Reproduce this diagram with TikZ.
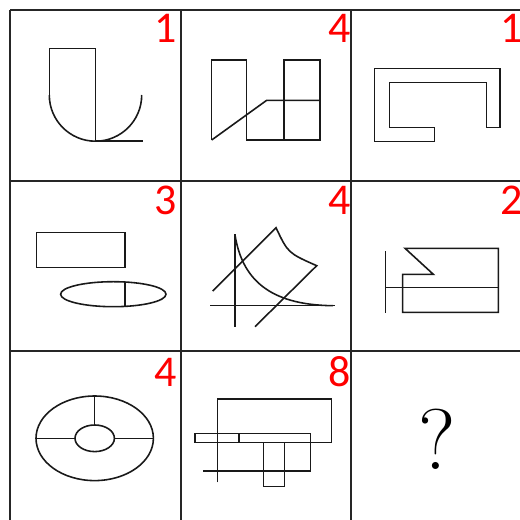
\documentclass[tikz,border=0pt]{standalone}
\usepackage{fontspec}
\newfontfamily\digitfont{Carlito}
\usetikzlibrary{calc}

\begin{document}
\begin{tikzpicture}[
  x=0.02cm, y=-0.02cm,
  gridline/.style={draw=black!85, line width=1.2pt},
  figline/.style={draw=black!90, line width=0.9pt},
  count/.style={text=red, font=\digitfont\fontsize{25}{25}\selectfont,
    anchor=base east, inner sep=0pt},
]
\useasboundingbox (0,0) rectangle (520,520);

%% Grid
\foreach \g in {10,181,351} {
  \draw[gridline] (\g,10) -- (\g,522);
  \draw[gridline] (10,\g) -- (522,\g);
}

%% Row 1
\draw[figline] (49.3,95) -- (49.3,48.3) -- (95.7,48.3) -- (95.7,141) -- (142.7,141);
\draw[figline] (49.3,95) arc[start angle=180, end angle=0, radius=46.2];

\draw[figline] (211.7,140) -- (211.7,60) -- (246.7,60) -- (246.7,140)
  -- (320,140) -- (320,60) -- (284,60) -- (284,140);
\draw[figline] (211.7,140) -- (266.7,100.3) -- (320,100.3);

\draw[figline] (374.3,68.3) -- (500,68.3) -- (500,127.3) -- (486.7,127.3)
  -- (486.7,82.3) -- (389.3,82.3) -- (389.3,127.3) -- (434.3,127.3)
  -- (434.3,141.3) -- (374.3,141.3) -- cycle;

%% Row 2
\draw[figline] (36.7,232.7) rectangle (125,267.7);
\draw[figline] (113.3,294.2) ellipse [x radius=52.7, y radius=12.5];
\draw[figline] (125,282) -- (125,306.4);

\draw[figline] (235,234.3) -- (235,326.7);
\draw[figline] (210,305.7) -- (335,305.7);
\draw[figline] (212.7,291) -- (276,227.7) .. controls (288,253) .. (316.7,265.7)
  -- (255,326.7);
\draw[figline] (235,235) .. controls (242,278) and (268,305) .. (333,305.7);

\draw[figline] (385.7,251) -- (385.7,312.7);
\draw[figline] (385.7,287.3) -- (498.3,287.3);
\draw[figline] (405,248.3) -- (498.3,248.3) -- (498.3,312.3) -- (402.7,312.3)
  -- (402.7,274.3) -- (433.3,274.3) -- cycle;

%% Row 3
\draw[figline] (94.7,438.3) ellipse [x radius=58.7, y radius=42.3];
\draw[figline] (94.7,438.3) ellipse [x radius=19.7, y radius=13.3];
\draw[figline] (94.7,396) -- (94.7,425);
\draw[figline] (36,438.3) -- (75,438.3) (114.3,438.3) -- (153.3,438.3);

\draw[figline] (217.3,482.3) -- (217.3,399) -- (331.7,399) -- (331.7,442.3) -- (310.7,442.3);
\draw[figline] (195,433.3) rectangle (310.7,442.3);
\draw[figline] (239,433.3) -- (239,442.3);
\draw[figline] (310.7,442.3) -- (310.7,471) -- (203.3,471);
\draw[figline] (263.3,442.3) rectangle (284.3,486.7);

\node[font=\fontsize{49}{49}\selectfont, anchor=base, inner sep=0pt]
  (quest) at (436.7,469.5) {?};

%% Counts
\node[count] (c11) at (177,43) {1};
\node[count] (c12) at (351,43) {4};
\node[count] (c13) at (523,43) {1};
\node[count] (c21) at (177,214.5) {3};
\node[count] (c22) at (351,214.5) {4};
\node[count] (c23) at (523,214.5) {2};
\node[count] (c31) at (177,386.5) {4};
\node[count] (c32) at (351,386.5) {8};

\end{tikzpicture}
\end{document}
